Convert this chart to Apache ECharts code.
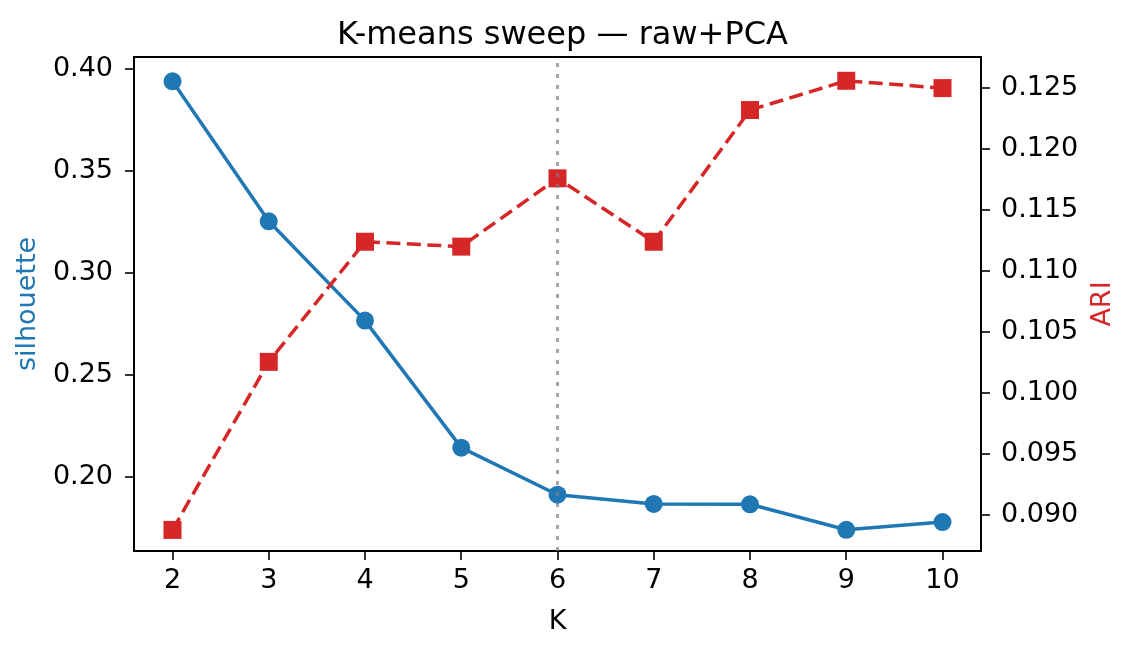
<!DOCTYPE html>
<html>
<head>
<meta charset="utf-8">
<title>K-means sweep</title>
<script src="https://cdn.jsdelivr.net/npm/echarts@6/dist/echarts.min.js"></script>
<style>
  html, body { margin: 0; padding: 0; background: #fff; }
  #chart { width: 1131px; height: 652px; }
</style>
</head>
<body>
<div id="chart"></div>
<script>
// data
var kValues = [2, 3, 4, 5, 6, 7, 8, 9, 10];
var silhouette = [0.394, 0.3253, 0.2766, 0.2143, 0.1912, 0.1867, 0.1865, 0.1740, 0.1778];
var ari = [0.08877, 0.10255, 0.1124, 0.1120, 0.1176, 0.1124, 0.1232, 0.1256, 0.1250];
var bestK = 6;

// tick labels
var xTicks = [2, 3, 4, 5, 6, 7, 8, 9, 10];
var silTicks = [0.20, 0.25, 0.30, 0.35, 0.40];
var ariTicks = [0.090, 0.095, 0.100, 0.105, 0.110, 0.115, 0.120, 0.125];

var FONT = 'DejaVu Sans';
var BLUE = '#1f77b4';
var RED = '#d62728';

function pairs(xs, ys) {
    return xs.map(function (x, i) { return [x, ys[i]]; });
}

function axisBase() {
    return {
        axisLine: {show: true, onZero: false, lineStyle: {color: '#000', width: 2}},
        axisTick: {show: true, inside: false, length: 9, lineStyle: {color: '#000', width: 1.6}},
        splitLine: {show: false},
        nameTextStyle: {fontFamily: FONT, fontSize: 27, color: '#000'}
    };
}

var chart = echarts.init(document.getElementById('chart'), null, {renderer: 'canvas'});

var xAxis = axisBase();
Object.assign(xAxis, {
    type: 'value',
    min: 1.6,
    max: 10.4,
    name: 'K',
    nameLocation: 'middle',
    nameGap: 57,
    axisLabel: {customValues: xTicks, margin: 16, fontFamily: FONT, fontSize: 27, color: '#000'}
});
xAxis.axisTick.customValues = xTicks;

var yLeft = axisBase();
Object.assign(yLeft, {
    type: 'value',
    position: 'left',
    min: 0.1636,
    max: 0.4059,
    name: 'silhouette',
    nameLocation: 'middle',
    nameRotate: 90,
    nameGap: 87,
    axisLabel: {
        customValues: silTicks, margin: 21, fontFamily: FONT, fontSize: 27, color: '#000',
        formatter: function (v) { return v.toFixed(2); }
    }
});
yLeft.axisTick.customValues = silTicks;
yLeft.nameTextStyle.color = BLUE;

var yRight = axisBase();
Object.assign(yRight, {
    type: 'value',
    position: 'right',
    min: 0.08704,
    max: 0.12755,
    name: 'ARI',
    nameLocation: 'middle',
    nameRotate: 90,
    nameGap: 105,
    axisLabel: {
        customValues: ariTicks, margin: 20, fontFamily: FONT, fontSize: 27, color: '#000',
        formatter: function (v) { return v.toFixed(3); }
    }
});
yRight.axisTick.customValues = ariTicks;
yRight.nameTextStyle.color = RED;

var option = {
    animation: false,
    backgroundColor: '#fff',
    title: {
        text: 'K-means sweep — raw+PCA',
        left: 332,
        top: 15,
        textStyle: {fontFamily: FONT, fontSize: 32, fontWeight: 'normal', color: '#000'}
    },
    grid: {
        left: 134, right: 150, top: 57, bottom: 101,
        show: true, borderColor: '#000', borderWidth: 2,
        containLabel: false
    },
    xAxis: xAxis,
    yAxis: [yLeft, yRight],
    series: [
        {
            name: 'silhouette',
            type: 'line',
            xAxisIndex: 0,
            yAxisIndex: 0,
            data: pairs(kValues, silhouette),
            symbol: 'circle',
            symbolSize: 18,
            showSymbol: true,
            lineStyle: {color: BLUE, width: 3.5},
            itemStyle: {color: BLUE, borderWidth: 0},
            z: 2
        },
        {
            name: 'best K',
            type: 'line',
            xAxisIndex: 0,
            yAxisIndex: 0,
            data: [],
            z: 3,
            markLine: {
                silent: true,
                symbol: ['none', 'none'],
                label: {show: false},
                lineStyle: {color: 'rgba(128,128,128,0.7)', width: 3, type: [4, 7]},
                data: [{xAxis: bestK}]
            }
        },
        {
            name: 'ARI',
            type: 'line',
            xAxisIndex: 0,
            yAxisIndex: 1,
            data: pairs(kValues, ari),
            symbol: 'rect',
            symbolSize: 18,
            showSymbol: true,
            lineStyle: {color: RED, width: 3.5, type: [14, 6.5]},
            itemStyle: {color: RED, borderWidth: 0},
            z: 4
        }
    ]
};

chart.setOption(option);
</script>
</body>
</html>
